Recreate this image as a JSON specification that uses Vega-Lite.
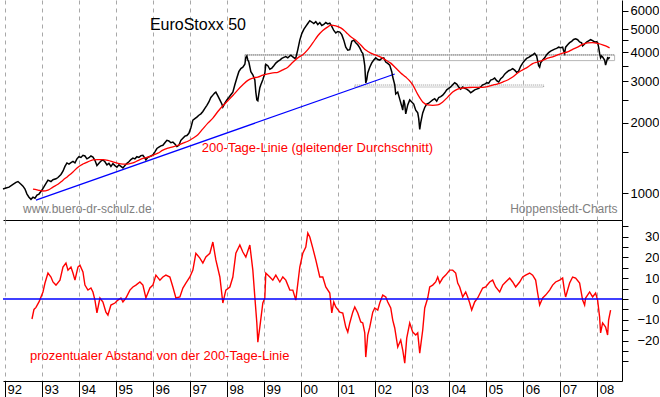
{
"$schema": "https://vega.github.io/schema/vega-lite/v6.json",
"padding": 0,
"background": "white",
"spacing": 0,
"config": {
  "view": {"stroke": null},
  "font": "Liberation Sans",
  "axis": {"title": null, "labelFont": "Liberation Sans", "labelFontSize": 13, "labelColor": "black", "domainColor": "black", "tickColor": "black", "labelOverlap": false, "labelFlush": false, "labelBound": false}
},
"datasets": {
  "price": [
{"t":1991.946,"v":1040},{"t":1992.027,"v":1050},{"t":1992.108,"v":1060},{"t":1992.216,"v":1090},{"t":1992.297,"v":1110},{"t":1992.351,"v":1120},{"t":1992.432,"v":1090},{"t":1992.486,"v":1070},{"t":1992.540,"v":1040},{"t":1992.594,"v":990},{"t":1992.648,"v":960},{"t":1992.702,"v":940},{"t":1992.756,"v":960},{"t":1992.810,"v":950},{"t":1992.864,"v":980},{"t":1992.918,"v":990},{"t":1992.999,"v":1030},{"t":1993.080,"v":1080},{"t":1993.161,"v":1135},{"t":1993.242,"v":1120},{"t":1993.296,"v":1140},{"t":1993.377,"v":1150},{"t":1993.431,"v":1165},{"t":1993.512,"v":1200},{"t":1993.566,"v":1240},{"t":1993.620,"v":1300},{"t":1993.674,"v":1345},{"t":1993.728,"v":1330},{"t":1993.782,"v":1350},{"t":1993.836,"v":1365},{"t":1993.890,"v":1345},{"t":1993.944,"v":1400},{"t":1993.998,"v":1430},{"t":1994.052,"v":1420},{"t":1994.106,"v":1450},{"t":1994.160,"v":1440},{"t":1994.214,"v":1400},{"t":1994.268,"v":1415},{"t":1994.322,"v":1440},{"t":1994.376,"v":1425},{"t":1994.430,"v":1380},{"t":1994.484,"v":1310},{"t":1994.538,"v":1340},{"t":1994.592,"v":1370},{"t":1994.646,"v":1385},{"t":1994.700,"v":1360},{"t":1994.754,"v":1320},{"t":1994.808,"v":1340},{"t":1994.862,"v":1300},{"t":1994.916,"v":1335},{"t":1994.970,"v":1310},{"t":1995.024,"v":1290},{"t":1995.078,"v":1320},{"t":1995.132,"v":1300},{"t":1995.186,"v":1280},{"t":1995.240,"v":1310},{"t":1995.294,"v":1340},{"t":1995.348,"v":1360},{"t":1995.402,"v":1390},{"t":1995.456,"v":1410},{"t":1995.510,"v":1400},{"t":1995.564,"v":1430},{"t":1995.618,"v":1420},{"t":1995.672,"v":1445},{"t":1995.726,"v":1450},{"t":1995.780,"v":1410},{"t":1995.807,"v":1385},{"t":1995.861,"v":1420},{"t":1995.942,"v":1440},{"t":1995.996,"v":1455},{"t":1996.050,"v":1500},{"t":1996.104,"v":1550},{"t":1996.158,"v":1570},{"t":1996.212,"v":1590},{"t":1996.266,"v":1600},{"t":1996.320,"v":1640},{"t":1996.374,"v":1680},{"t":1996.428,"v":1670},{"t":1996.482,"v":1640},{"t":1996.536,"v":1650},{"t":1996.590,"v":1620},{"t":1996.644,"v":1580},{"t":1996.698,"v":1600},{"t":1996.752,"v":1680},{"t":1996.806,"v":1715},{"t":1996.860,"v":1750},{"t":1996.914,"v":1760},{"t":1996.968,"v":1800},{"t":1997.022,"v":1900},{"t":1997.076,"v":2050},{"t":1997.130,"v":2080},{"t":1997.184,"v":2110},{"t":1997.238,"v":2150},{"t":1997.292,"v":2180},{"t":1997.346,"v":2230},{"t":1997.400,"v":2300},{"t":1997.454,"v":2370},{"t":1997.508,"v":2450},{"t":1997.562,"v":2560},{"t":1997.616,"v":2620},{"t":1997.670,"v":2680},{"t":1997.697,"v":2700},{"t":1997.751,"v":2600},{"t":1997.805,"v":2500},{"t":1997.859,"v":2400},{"t":1997.886,"v":2330},{"t":1997.940,"v":2420},{"t":1997.994,"v":2500},{"t":1998.048,"v":2560},{"t":1998.102,"v":2630},{"t":1998.156,"v":2700},{"t":1998.210,"v":2900},{"t":1998.264,"v":3100},{"t":1998.318,"v":3300},{"t":1998.372,"v":3400},{"t":1998.426,"v":3450},{"t":1998.480,"v":3550},{"t":1998.507,"v":3800},{"t":1998.534,"v":3850},{"t":1998.561,"v":3700},{"t":1998.588,"v":3630},{"t":1998.642,"v":3300},{"t":1998.696,"v":3200},{"t":1998.750,"v":3040},{"t":1998.777,"v":2700},{"t":1998.804,"v":2500},{"t":1998.831,"v":2480},{"t":1998.858,"v":2650},{"t":1998.885,"v":2820},{"t":1998.912,"v":2900},{"t":1998.966,"v":3050},{"t":1999.020,"v":3250},{"t":1999.047,"v":3550},{"t":1999.101,"v":3500},{"t":1999.155,"v":3380},{"t":1999.209,"v":3420},{"t":1999.263,"v":3500},{"t":1999.317,"v":3590},{"t":1999.371,"v":3650},{"t":1999.425,"v":3700},{"t":1999.479,"v":3760},{"t":1999.533,"v":3800},{"t":1999.587,"v":3830},{"t":1999.641,"v":3780},{"t":1999.695,"v":3850},{"t":1999.722,"v":3880},{"t":1999.776,"v":3820},{"t":1999.830,"v":3760},{"t":1999.857,"v":3780},{"t":1999.911,"v":4100},{"t":1999.965,"v":4500},{"t":2000.019,"v":4800},{"t":2000.073,"v":5000},{"t":2000.127,"v":5150},{"t":2000.181,"v":5300},{"t":2000.235,"v":5450},{"t":2000.289,"v":5380},{"t":2000.343,"v":5300},{"t":2000.397,"v":5400},{"t":2000.451,"v":5250},{"t":2000.505,"v":5350},{"t":2000.559,"v":5200},{"t":2000.613,"v":5250},{"t":2000.667,"v":5350},{"t":2000.721,"v":5280},{"t":2000.775,"v":5320},{"t":2000.829,"v":5150},{"t":2000.883,"v":4950},{"t":2000.937,"v":4830},{"t":2000.991,"v":4900},{"t":2001.045,"v":4870},{"t":2001.099,"v":4750},{"t":2001.153,"v":4500},{"t":2001.207,"v":4200},{"t":2001.261,"v":4080},{"t":2001.315,"v":4100},{"t":2001.369,"v":4450},{"t":2001.423,"v":4500},{"t":2001.477,"v":4390},{"t":2001.531,"v":4300},{"t":2001.585,"v":4170},{"t":2001.639,"v":4000},{"t":2001.666,"v":3950},{"t":2001.693,"v":3750},{"t":2001.720,"v":3500},{"t":2001.747,"v":2950},{"t":2001.774,"v":3050},{"t":2001.801,"v":3260},{"t":2001.855,"v":3450},{"t":2001.909,"v":3600},{"t":2001.963,"v":3700},{"t":2002.017,"v":3780},{"t":2002.071,"v":3720},{"t":2002.125,"v":3700},{"t":2002.179,"v":3760},{"t":2002.233,"v":3780},{"t":2002.287,"v":3630},{"t":2002.341,"v":3580},{"t":2002.395,"v":3520},{"t":2002.449,"v":3300},{"t":2002.476,"v":3130},{"t":2002.530,"v":2900},{"t":2002.557,"v":2650},{"t":2002.611,"v":2700},{"t":2002.665,"v":2520},{"t":2002.719,"v":2350},{"t":2002.746,"v":2260},{"t":2002.773,"v":2500},{"t":2002.800,"v":2400},{"t":2002.827,"v":2180},{"t":2002.881,"v":2380},{"t":2002.935,"v":2500},{"t":2002.989,"v":2450},{"t":2003.043,"v":2400},{"t":2003.097,"v":2260},{"t":2003.151,"v":2200},{"t":2003.178,"v":2080},{"t":2003.205,"v":1870},{"t":2003.232,"v":2000},{"t":2003.286,"v":2200},{"t":2003.340,"v":2320},{"t":2003.394,"v":2400},{"t":2003.448,"v":2420},{"t":2003.502,"v":2460},{"t":2003.556,"v":2500},{"t":2003.610,"v":2530},{"t":2003.664,"v":2470},{"t":2003.718,"v":2560},{"t":2003.772,"v":2580},{"t":2003.826,"v":2620},{"t":2003.880,"v":2680},{"t":2003.934,"v":2760},{"t":2003.988,"v":2800},{"t":2004.042,"v":2840},{"t":2004.096,"v":2900},{"t":2004.150,"v":2960},{"t":2004.204,"v":2920},{"t":2004.258,"v":2840},{"t":2004.312,"v":2780},{"t":2004.366,"v":2840},{"t":2004.420,"v":2800},{"t":2004.474,"v":2780},{"t":2004.528,"v":2740},{"t":2004.582,"v":2680},{"t":2004.636,"v":2720},{"t":2004.690,"v":2760},{"t":2004.744,"v":2780},{"t":2004.798,"v":2800},{"t":2004.852,"v":2840},{"t":2004.906,"v":2900},{"t":2004.960,"v":2920},{"t":2005.014,"v":2960},{"t":2005.068,"v":2950},{"t":2005.122,"v":3040},{"t":2005.176,"v":3060},{"t":2005.230,"v":3100},{"t":2005.284,"v":3020},{"t":2005.338,"v":2980},{"t":2005.392,"v":3080},{"t":2005.446,"v":3130},{"t":2005.500,"v":3220},{"t":2005.554,"v":3280},{"t":2005.608,"v":3330},{"t":2005.662,"v":3360},{"t":2005.716,"v":3400},{"t":2005.770,"v":3350},{"t":2005.824,"v":3280},{"t":2005.878,"v":3320},{"t":2005.932,"v":3480},{"t":2005.986,"v":3590},{"t":2006.040,"v":3680},{"t":2006.094,"v":3760},{"t":2006.148,"v":3800},{"t":2006.202,"v":3850},{"t":2006.256,"v":3890},{"t":2006.310,"v":3950},{"t":2006.364,"v":3850},{"t":2006.418,"v":3500},{"t":2006.445,"v":3450},{"t":2006.472,"v":3600},{"t":2006.526,"v":3700},{"t":2006.580,"v":3780},{"t":2006.634,"v":3900},{"t":2006.688,"v":3980},{"t":2006.742,"v":4040},{"t":2006.796,"v":4080},{"t":2006.850,"v":4120},{"t":2006.904,"v":4150},{"t":2006.958,"v":4200},{"t":2007.012,"v":4180},{"t":2007.066,"v":4200},{"t":2007.093,"v":4050},{"t":2007.120,"v":3950},{"t":2007.147,"v":4200},{"t":2007.201,"v":4300},{"t":2007.255,"v":4390},{"t":2007.309,"v":4450},{"t":2007.363,"v":4530},{"t":2007.417,"v":4560},{"t":2007.471,"v":4520},{"t":2007.525,"v":4420},{"t":2007.579,"v":4380},{"t":2007.606,"v":4250},{"t":2007.660,"v":4330},{"t":2007.714,"v":4420},{"t":2007.768,"v":4470},{"t":2007.822,"v":4520},{"t":2007.876,"v":4480},{"t":2007.930,"v":4420},{"t":2007.984,"v":4430},{"t":2008.011,"v":4390},{"t":2008.038,"v":4200},{"t":2008.065,"v":3950},{"t":2008.092,"v":3780},{"t":2008.119,"v":3850},{"t":2008.146,"v":3810},{"t":2008.200,"v":3700},{"t":2008.227,"v":3520},{"t":2008.254,"v":3650},{"t":2008.281,"v":3780},{"t":2008.308,"v":3750},{"t":2008.335,"v":3810}
  ],
  "ma": [
{"t":1992.756,"v":1040},{"t":1992.891,"v":1030},{"t":1993.026,"v":1020},{"t":1993.161,"v":1030},{"t":1993.296,"v":1060},{"t":1993.431,"v":1090},{"t":1993.566,"v":1135},{"t":1993.701,"v":1180},{"t":1993.836,"v":1230},{"t":1993.971,"v":1290},{"t":1994.106,"v":1330},{"t":1994.241,"v":1360},{"t":1994.376,"v":1385},{"t":1994.511,"v":1390},{"t":1994.646,"v":1390},{"t":1994.781,"v":1380},{"t":1994.916,"v":1360},{"t":1995.051,"v":1340},{"t":1995.186,"v":1330},{"t":1995.321,"v":1330},{"t":1995.456,"v":1345},{"t":1995.591,"v":1375},{"t":1995.726,"v":1405},{"t":1995.861,"v":1425},{"t":1995.996,"v":1450},{"t":1996.131,"v":1480},{"t":1996.266,"v":1525},{"t":1996.401,"v":1555},{"t":1996.536,"v":1575},{"t":1996.671,"v":1600},{"t":1996.806,"v":1635},{"t":1996.941,"v":1665},{"t":1997.076,"v":1715},{"t":1997.211,"v":1775},{"t":1997.346,"v":1880},{"t":1997.481,"v":1990},{"t":1997.616,"v":2090},{"t":1997.751,"v":2230},{"t":1997.886,"v":2360},{"t":1998.021,"v":2480},{"t":1998.156,"v":2610},{"t":1998.291,"v":2760},{"t":1998.426,"v":2900},{"t":1998.561,"v":3030},{"t":1998.696,"v":3100},{"t":1998.831,"v":3130},{"t":1998.966,"v":3190},{"t":1999.101,"v":3230},{"t":1999.236,"v":3260},{"t":1999.371,"v":3280},{"t":1999.506,"v":3360},{"t":1999.641,"v":3450},{"t":1999.776,"v":3620},{"t":1999.911,"v":3780},{"t":2000.046,"v":3900},{"t":2000.181,"v":4100},{"t":2000.316,"v":4380},{"t":2000.451,"v":4700},{"t":2000.586,"v":4950},{"t":2000.721,"v":5130},{"t":2000.802,"v":5220},{"t":2000.937,"v":5180},{"t":2001.072,"v":5080},{"t":2001.207,"v":4880},{"t":2001.342,"v":4650},{"t":2001.477,"v":4500},{"t":2001.612,"v":4290},{"t":2001.747,"v":4080},{"t":2001.882,"v":3960},{"t":2002.017,"v":3890},{"t":2002.152,"v":3810},{"t":2002.287,"v":3700},{"t":2002.422,"v":3590},{"t":2002.557,"v":3420},{"t":2002.692,"v":3260},{"t":2002.827,"v":3130},{"t":2002.962,"v":2980},{"t":2003.016,"v":2900},{"t":2003.151,"v":2640},{"t":2003.286,"v":2450},{"t":2003.421,"v":2380},{"t":2003.556,"v":2370},{"t":2003.691,"v":2380},{"t":2003.826,"v":2450},{"t":2003.961,"v":2570},{"t":2004.096,"v":2700},{"t":2004.231,"v":2780},{"t":2004.366,"v":2810},{"t":2004.501,"v":2820},{"t":2004.636,"v":2830},{"t":2004.771,"v":2830},{"t":2004.906,"v":2830},{"t":2005.041,"v":2850},{"t":2005.176,"v":2890},{"t":2005.311,"v":2930},{"t":2005.446,"v":2980},{"t":2005.581,"v":3040},{"t":2005.716,"v":3130},{"t":2005.851,"v":3260},{"t":2005.986,"v":3360},{"t":2006.121,"v":3450},{"t":2006.256,"v":3570},{"t":2006.391,"v":3630},{"t":2006.526,"v":3690},{"t":2006.661,"v":3770},{"t":2006.796,"v":3820},{"t":2006.931,"v":3890},{"t":2007.066,"v":3960},{"t":2007.201,"v":4010},{"t":2007.336,"v":4110},{"t":2007.471,"v":4200},{"t":2007.606,"v":4320},{"t":2007.741,"v":4380},{"t":2007.876,"v":4390},{"t":2008.011,"v":4360},{"t":2008.146,"v":4300},{"t":2008.227,"v":4250},{"t":2008.335,"v":4170}
  ],
  "dev": [
{"t":1992.729,"v":-9.6},{"t":1992.783,"v":-5},{"t":1992.837,"v":-4},{"t":1992.918,"v":-1.4},{"t":1992.972,"v":1},{"t":1993.026,"v":3.4},{"t":1993.080,"v":7.7},{"t":1993.161,"v":12.5},{"t":1993.242,"v":10.6},{"t":1993.296,"v":8.2},{"t":1993.377,"v":6.7},{"t":1993.485,"v":9.1},{"t":1993.566,"v":15.4},{"t":1993.647,"v":17.3},{"t":1993.701,"v":13.9},{"t":1993.782,"v":15.4},{"t":1993.836,"v":12.5},{"t":1993.890,"v":9.1},{"t":1993.971,"v":15.4},{"t":1994.025,"v":16.3},{"t":1994.106,"v":13},{"t":1994.160,"v":6.7},{"t":1994.241,"v":4.3},{"t":1994.322,"v":5.3},{"t":1994.376,"v":3.4},{"t":1994.430,"v":-0.5},{"t":1994.484,"v":-6.7},{"t":1994.565,"v":0.5},{"t":1994.646,"v":-1.4},{"t":1994.727,"v":-6.3},{"t":1994.781,"v":-7.7},{"t":1994.862,"v":-2.9},{"t":1994.970,"v":-1.9},{"t":1995.051,"v":-0.5},{"t":1995.132,"v":0.5},{"t":1995.186,"v":-1.4},{"t":1995.267,"v":0.5},{"t":1995.375,"v":4.3},{"t":1995.456,"v":5.8},{"t":1995.537,"v":6.7},{"t":1995.645,"v":8.2},{"t":1995.726,"v":6.7},{"t":1995.807,"v":0.5},{"t":1995.915,"v":5.3},{"t":1995.996,"v":6.7},{"t":1996.077,"v":11.5},{"t":1996.185,"v":9.1},{"t":1996.266,"v":10.6},{"t":1996.347,"v":11.5},{"t":1996.455,"v":10.6},{"t":1996.536,"v":5.8},{"t":1996.617,"v":0.5},{"t":1996.725,"v":1},{"t":1996.806,"v":5.3},{"t":1996.887,"v":7.7},{"t":1996.995,"v":10.6},{"t":1997.076,"v":13.9},{"t":1997.157,"v":22},{"t":1997.265,"v":19.7},{"t":1997.346,"v":17.3},{"t":1997.427,"v":20.2},{"t":1997.535,"v":22},{"t":1997.616,"v":27.4},{"t":1997.697,"v":18.8},{"t":1997.805,"v":10.6},{"t":1997.886,"v":-1.9},{"t":1997.967,"v":4.3},{"t":1998.075,"v":5.8},{"t":1998.156,"v":10.6},{"t":1998.237,"v":22},{"t":1998.345,"v":26},{"t":1998.426,"v":22.6},{"t":1998.507,"v":20.2},{"t":1998.615,"v":26},{"t":1998.696,"v":13.9},{"t":1998.750,"v":1},{"t":1998.804,"v":-11.5},{"t":1998.831,"v":-20.7},{"t":1998.885,"v":-13.5},{"t":1998.966,"v":-1.9},{"t":1999.020,"v":0.5},{"t":1999.047,"v":12.5},{"t":1999.155,"v":10.6},{"t":1999.236,"v":9.1},{"t":1999.317,"v":11.5},{"t":1999.425,"v":8.2},{"t":1999.506,"v":10.6},{"t":1999.587,"v":9.1},{"t":1999.695,"v":4.3},{"t":1999.776,"v":4.3},{"t":1999.857,"v":-0.5},{"t":1999.965,"v":15.4},{"t":2000.046,"v":22},{"t":2000.127,"v":25},{"t":2000.181,"v":31.7},{"t":2000.235,"v":29.8},{"t":2000.316,"v":24.5},{"t":2000.397,"v":18.8},{"t":2000.505,"v":10.6},{"t":2000.586,"v":10.6},{"t":2000.667,"v":5.8},{"t":2000.775,"v":2.9},{"t":2000.829,"v":-6.7},{"t":2000.883,"v":-1.4},{"t":2000.937,"v":-3.8},{"t":2001.045,"v":-6.3},{"t":2001.126,"v":-6.7},{"t":2001.207,"v":-13.5},{"t":2001.261,"v":-15.9},{"t":2001.315,"v":-11.5},{"t":2001.396,"v":-6.3},{"t":2001.450,"v":-3.8},{"t":2001.531,"v":-6.7},{"t":2001.612,"v":-11},{"t":2001.666,"v":-11.5},{"t":2001.720,"v":-16.3},{"t":2001.747,"v":-27.9},{"t":2001.801,"v":-17.3},{"t":2001.855,"v":-13.5},{"t":2001.936,"v":-6.3},{"t":2001.990,"v":-4.3},{"t":2002.071,"v":-5.3},{"t":2002.125,"v":-1.9},{"t":2002.206,"v":1.9},{"t":2002.287,"v":1},{"t":2002.341,"v":-1.4},{"t":2002.422,"v":-4.3},{"t":2002.476,"v":-10.1},{"t":2002.530,"v":-13.9},{"t":2002.611,"v":-23.1},{"t":2002.692,"v":-19.7},{"t":2002.746,"v":-24.5},{"t":2002.800,"v":-30.8},{"t":2002.854,"v":-18.8},{"t":2002.935,"v":-11.5},{"t":2003.016,"v":-15.9},{"t":2003.097,"v":-17.3},{"t":2003.151,"v":-16.3},{"t":2003.205,"v":-26},{"t":2003.286,"v":-14.9},{"t":2003.340,"v":-4.3},{"t":2003.421,"v":0.5},{"t":2003.475,"v":5.8},{"t":2003.556,"v":6.7},{"t":2003.637,"v":8.2},{"t":2003.691,"v":10.6},{"t":2003.745,"v":7.7},{"t":2003.826,"v":10.1},{"t":2003.907,"v":11.5},{"t":2004.015,"v":13.9},{"t":2004.096,"v":13.9},{"t":2004.177,"v":12.5},{"t":2004.231,"v":7.7},{"t":2004.285,"v":5.8},{"t":2004.366,"v":1},{"t":2004.447,"v":3.4},{"t":2004.501,"v":1},{"t":2004.555,"v":-1.9},{"t":2004.609,"v":-5.3},{"t":2004.690,"v":-1.4},{"t":2004.771,"v":0.5},{"t":2004.852,"v":3.4},{"t":2004.906,"v":5.3},{"t":2004.987,"v":5.8},{"t":2005.095,"v":8.2},{"t":2005.176,"v":9.1},{"t":2005.257,"v":5.8},{"t":2005.365,"v":3.4},{"t":2005.446,"v":6.7},{"t":2005.527,"v":8.2},{"t":2005.635,"v":10.1},{"t":2005.716,"v":8.2},{"t":2005.797,"v":5.8},{"t":2005.905,"v":8.2},{"t":2005.986,"v":10.6},{"t":2006.067,"v":11.5},{"t":2006.175,"v":12.5},{"t":2006.256,"v":11.5},{"t":2006.337,"v":9.1},{"t":2006.391,"v":2.9},{"t":2006.445,"v":-2.9},{"t":2006.526,"v":0.5},{"t":2006.607,"v":1.9},{"t":2006.715,"v":4.3},{"t":2006.796,"v":6.7},{"t":2006.877,"v":8.2},{"t":2006.985,"v":9.1},{"t":2007.066,"v":10.1},{"t":2007.120,"v":3.4},{"t":2007.147,"v":1},{"t":2007.255,"v":7.7},{"t":2007.336,"v":10.6},{"t":2007.417,"v":10.1},{"t":2007.525,"v":7.7},{"t":2007.606,"v":-0.5},{"t":2007.660,"v":-2.9},{"t":2007.687,"v":0.5},{"t":2007.795,"v":3.4},{"t":2007.876,"v":1},{"t":2007.957,"v":2.9},{"t":2008.011,"v":-0.5},{"t":2008.065,"v":-8.7},{"t":2008.092,"v":-16.3},{"t":2008.146,"v":-11.5},{"t":2008.227,"v":-13.5},{"t":2008.281,"v":-17.3},{"t":2008.308,"v":-10.1},{"t":2008.362,"v":-5.3}
  ]
},
"vconcat": [
  {
    "width": 619,
    "height": 220,
    "encoding": {
      "x": {"field": "t", "type": "quantitative", "scale": {"domain": [1991.946, 2008.67], "nice": false, "zero": false},
            "axis": {"values": [1992,1993,1994,1995,1996,1997,1998,1999,2000,2001,2002,2003,2004,2005,2006,2007,2008], "labels": false, "ticks": false, "domain": true, "grid": true, "gridDash": [4,4], "gridColor": "#a8a8a8", "gridWidth": 1, "labelOverlap": false}},
      "y": {"field": "v", "type": "quantitative", "scale": {"type": "log", "domain": [767, 6680], "nice": false},
            "axis": {"orient": "right", "values": [1000,1500,2000,2500,3000,3500,4000,4500,5000,6000], "format": "d", "labelExpr": "datum.value % 1000 === 0 ? datum.label : ''", "tickSize": 6, "labelPadding": 31, "labelAlign": "right", "grid": false, "labelOverlap": false}}
    },
    "layer": [
      {
        "data": {"values": [{"t": 1998.48, "t2": 2008.47, "v": 3680, "v2": 3890}]},
        "mark": {"type": "rect", "fill": null, "fillOpacity": 0, "stroke": "#b8b8b8", "strokeWidth": 1},
        "encoding": {"x2": {"field": "t2"}, "y2": {"field": "v2"}}
      },
      {
        "data": {"values": [{"t": 1998.48, "t2": 2008.47, "v": 3890}]},
        "mark": {"type": "rule", "stroke": "#707070", "strokeDash": [1,1], "strokeWidth": 1},
        "encoding": {"x2": {"field": "t2"}}
      },
      {
        "data": {"values": [{"t": 2001.45, "t2": 2006.553, "v": 2838, "v2": 2894}]},
        "mark": {"type": "rect", "fill": null, "fillOpacity": 0, "stroke": "#909090", "strokeDash": [1,1], "strokeWidth": 1},
        "encoding": {"x2": {"field": "t2"}, "y2": {"field": "v2"}}
      },
      {
        "data": {"values": [{"t": 1992.837, "v": 933}, {"t": 2002.53, "v": 3226}]},
        "mark": {"type": "line", "color": "#0000ff", "strokeWidth": 1.2},
        "encoding": {}
      },
      {
        "data": {"name": "price"},
        "mark": {"type": "line", "color": "black", "strokeWidth": 1.5},
        "encoding": {}
      },
      {
        "data": {"name": "ma"},
        "mark": {"type": "line", "color": "#ff0000", "strokeWidth": 1.3, "interpolate": "monotone"},
        "encoding": {}
      },
      {
        "data": {"values": [{"t": 1995.915, "v": 5224, "label": "EuroStoxx 50"}]},
        "mark": {"type": "text", "align": "left", "baseline": "middle", "fontSize": 16, "color": "black", "font": "Liberation Sans"},
        "encoding": {"text": {"field": "label"}}
      },
      {
        "data": {"values": [{"t": 1997.319, "v": 1557, "label": "200-Tage-Linie (gleitender Durchschnitt)"}]},
        "mark": {"type": "text", "align": "left", "baseline": "middle", "fontSize": 13, "color": "#ff0000", "font": "Liberation Sans"},
        "encoding": {"text": {"field": "label"}}
      },
      {
        "data": {"values": [{"t": 1992.486, "v": 854, "label": "www.buero-dr-schulz.de"}]},
        "mark": {"type": "text", "align": "left", "baseline": "middle", "fontSize": 12, "color": "#808080", "font": "Liberation Sans"},
        "encoding": {"text": {"field": "label"}}
      },
      {
        "data": {"values": [{"t": 2008.551, "v": 854, "label": "Hoppenstedt-Charts"}]},
        "mark": {"type": "text", "align": "right", "baseline": "middle", "fontSize": 12, "color": "#808080", "font": "Liberation Sans"},
        "encoding": {"text": {"field": "label"}}
      }
    ]
  },
  {
    "width": 619,
    "height": 161,
    "encoding": {
      "x": {"field": "t", "type": "quantitative", "scale": {"domain": [1991.946, 2008.67], "nice": false, "zero": false},
            "axis": {"values": [1992,1993,1994,1995,1996,1997,1998,1999,2000,2001,2002,2003,2004,2005,2006,2007,2008], "labelExpr": "substring(toString(datum.value), 2, 4)", "tickSize": 16, "labelAlign": "left", "labelBaseline": "top", "labelPadding": -14, "labelOffset": 2, "domain": true, "grid": true, "gridDash": [4,4], "gridColor": "#a8a8a8", "gridWidth": 1, "labelOverlap": false}},
      "y": {"field": "v", "type": "quantitative", "scale": {"domain": [-39.4, 38], "nice": false, "zero": false},
            "axis": {"orient": "right", "values": [-30,-25,-20,-15,-10,-5,0,5,10,15,20,25,30,35], "labelExpr": "(datum.value % 10 === 0 && datum.value >= -20 && datum.value <= 30) ? datum.label : ''", "tickSize": 6, "labelPadding": 31, "labelAlign": "right", "grid": false, "labelOverlap": false}}
    },
    "layer": [
      {
        "data": {"name": "dev"},
        "mark": {"type": "line", "color": "#ff0000", "strokeWidth": 1.4},
        "encoding": {}
      },
      {
        "data": {"values": [{"t": 1991.946, "t2": 2008.67, "v": 0}]},
        "mark": {"type": "rule", "color": "#0000ff", "strokeWidth": 1.5},
        "encoding": {"x2": {"field": "t2"}}
      },
      {
        "data": {"values": [{"t": 1992.675, "v": -27.4, "label": "prozentualer Abstand von der 200-Tage-Linie"}]},
        "mark": {"type": "text", "align": "left", "baseline": "middle", "fontSize": 13, "color": "#ff0000", "font": "Liberation Sans"},
        "encoding": {"text": {"field": "label"}}
      }
    ]
  }
]
}
